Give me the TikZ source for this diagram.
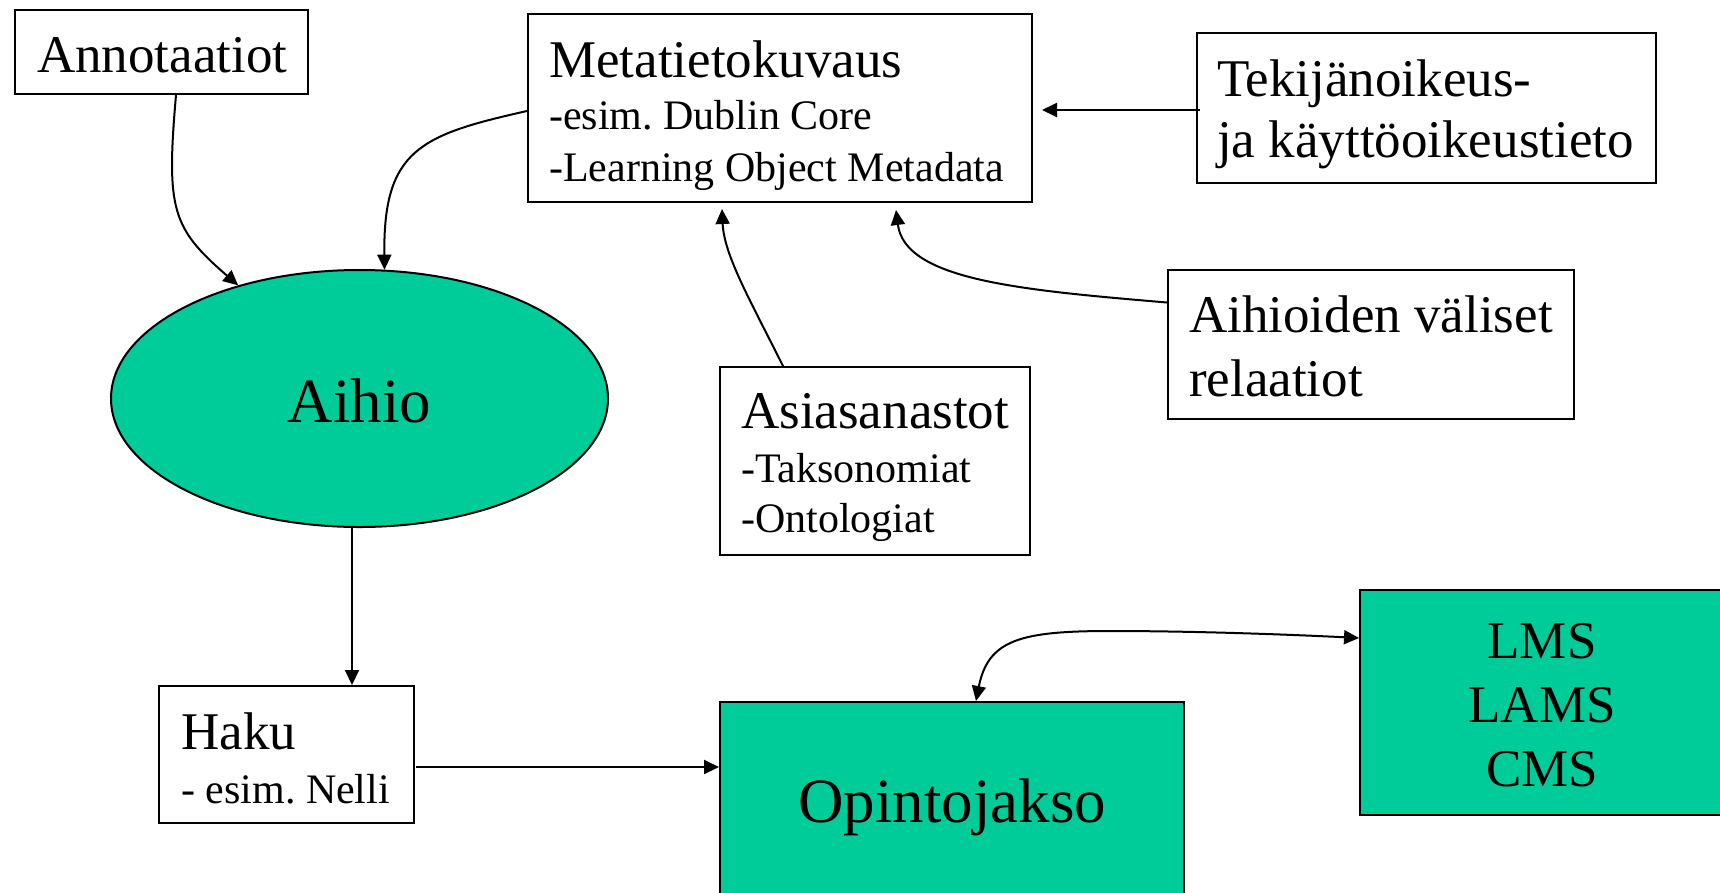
\documentclass[tikz,border=0pt]{standalone}
\usepackage{fontspec}
\setmainfont{Liberation Serif}
\frenchspacing
\usetikzlibrary{arrows.meta,calc,shapes.geometric}
\definecolor{greenfill}{RGB}{0,204,153}
\tikzset{
  box/.style={draw=black,line width=2pt,rectangle,inner sep=0pt,fill=white},
  gbox/.style={draw=black,line width=2pt,rectangle,inner sep=0pt,fill=greenfill},
  bigtxt/.style={inner sep=0pt,font=\fontsize{53}{62}\selectfont},
  subtxt/.style={inner sep=0pt,font=\fontsize{42}{50}\selectfont},
  hugetxt/.style={inner sep=0pt,font=\fontsize{63}{72}\selectfont},
  arr/.style={line width=2pt,-{Triangle[length=15pt,width=14pt]}},
  darr/.style={line width=2pt,{Triangle[length=15pt,width=14pt]}-{Triangle[length=15pt,width=14pt]}}
}
\begin{document}
\begin{tikzpicture}[x=1pt,y=-1pt]
\useasboundingbox (0,0) rectangle (1720,892);
\fill[white] (0,0) rectangle (1720,892);
\clip (0,0) rectangle (1720,892);

% boxes
\node[box,minimum width=293pt,minimum height=84pt] (annot) at (161.5,52) {};
\node[box,minimum width=504pt,minimum height=188pt] (meta) at (780,108) {};
\node[box,minimum width=459pt,minimum height=150pt] (tek) at (1426.5,108) {};
\node[box,minimum width=406pt,minimum height=149pt] (aih) at (1371,344.5) {};
\node[box,minimum width=310pt,minimum height=188pt] (asia) at (875,461) {};
\node[box,minimum width=255pt,minimum height=137pt] (haku) at (286.5,754.5) {};
\node[gbox,minimum width=464pt,minimum height=203pt] (opinto) at (952,803.5) {};
\node[gbox,minimum width=364pt,minimum height=225pt] (lms) at (1542,702.5) {};
\node[ellipse,draw=black,line width=2pt,fill=greenfill,inner sep=0pt,
      minimum width=497pt,minimum height=257pt] (aihio) at (359.5,398.5) {};

% texts
\node[bigtxt,anchor=base west] (tAnnot) at (37,72) {Annotaatiot};
\node[bigtxt,anchor=base west] (tMeta1) at (549,77) {Metatietokuvaus};
\node[subtxt,anchor=base west] (tMeta2) at (549,129) {-esim. Dublin Core};
\node[subtxt,anchor=base west] (tMeta3) at (549,181) {-Learning Object Metadata};
\node[bigtxt,anchor=base west] (tTek1) at (1217,96) {Tekijänoikeus-};
\node[bigtxt,anchor=base west] (tTek2) at (1217,157) {ja käyttöoikeustieto};
\node[bigtxt,anchor=base west] (tAih1) at (1189,332) {Aihioiden väliset};
\node[bigtxt,anchor=base west] (tAih2) at (1189,396) {relaatiot};
\node[bigtxt,anchor=base west] (tAsia1) at (741,428) {Asiasanastot};
\node[subtxt,anchor=base west] (tAsia2) at (741,482) {-Taksonomiat};
\node[subtxt,anchor=base west] (tAsia3) at (741,532) {-Ontologiat};
\node[bigtxt,anchor=base west] (tHaku1) at (181,749) {Haku};
\node[subtxt,anchor=base west] (tHaku2) at (181,803) {- esim. Nelli};
\node[hugetxt,anchor=base] (tAihio) at (359.5,422) {Aihio};
\node[hugetxt,anchor=base] (tOpinto) at (952,822) {Opintojakso};
\node[bigtxt,anchor=base] (tLms1) at (1542,658) {LMS};
\node[bigtxt,anchor=base] (tLms2) at (1542,722) {LAMS};
\node[bigtxt,anchor=base] (tLms3) at (1542,786) {CMS};

% connectors
\draw[arr] ($(annot.south)+(14.5,0)$) .. controls (166,210) and (172,228) .. (aihio.137);
\draw[arr] ($(meta.west)+(0,3)$) .. controls (420,135) and (383,150) .. (aihio.79.6);
\draw[arr] ($(asia.north)+(-92,0)$) .. controls (750,300) and (724,255) .. ($(meta.south)+(-58,6)$);
\draw[arr] ($(aih.west)+(0,-42)$) .. controls (1020,290) and (905,280) .. ($(meta.south)+(116,7)$);
\draw[arr] ($(tek.west)+(4,2)$) -- ($(meta.east)+(9,2)$);
\draw[arr] ($(aihio.south)+(-7.5,0)$) -- ($(haku.north)+(65.5,0)$);
\coordinate (h1) at ($(haku.east)+(1,12.5)$);
\draw[arr] (h1) -- (h1 -| opinto.west);
\draw[darr] ($(opinto.north)+(24,0)$) .. controls (988,640) and (1020,631) .. (1110,631)
  .. controls (1200,631) and (1300,635) .. ($(lms.west)+(0,-64.5)$);
\end{tikzpicture}
\end{document}
